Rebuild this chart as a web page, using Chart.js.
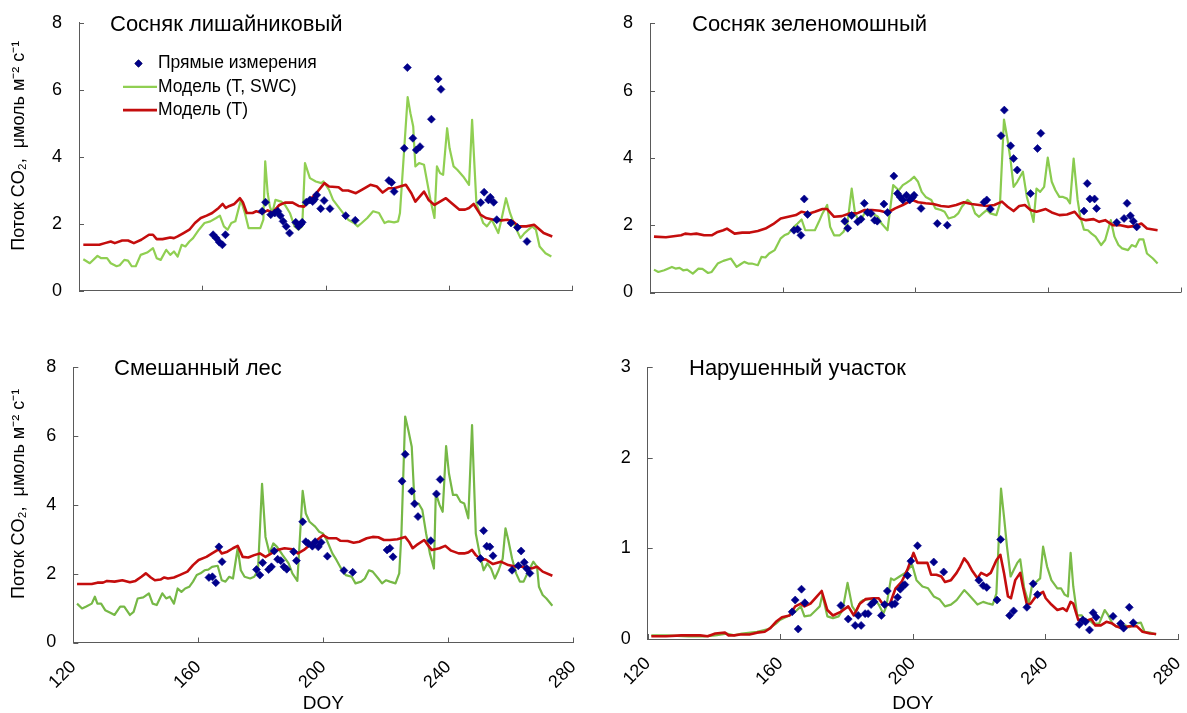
<!DOCTYPE html>
<html lang="ru">
<head>
<meta charset="utf-8">
<title>Поток CO2 — DOY</title>
<script src="https://cdn.jsdelivr.net/npm/chart.js@4.4.1/dist/chart.umd.min.js"></script>
<style>
  html, body { margin: 0; padding: 0; background: #fff; }
  body { position: relative; width: 1187px; height: 713px; overflow: hidden; }
  canvas { position: absolute; }
  #c1 { left: 0; top: 0; }
  #c2 { left: 593px; top: 0; }
  #c3 { left: 0; top: 335px; }
  #c4 { left: 593px; top: 335px; }
</style>
</head>
<body>
<canvas id="c1" width="593" height="335"></canvas>
<canvas id="c2" width="610" height="335"></canvas>
<canvas id="c3" width="593" height="378"></canvas>
<canvas id="c4" width="610" height="378"></canvas>
<script>
// labels
const seriesLabels = ['Прямые измерения', 'Модель (T, SWC)', 'Модель (T)'];
const panelTitles = ['Сосняк лишайниковый', 'Сосняк зеленомошный', 'Смешанный лес', 'Нарушенный участок'];
const yTitle = 'Поток CO₂,  μмоль м⁻² с⁻¹';
const xTitle = 'DOY';

// --- Сосняк лишайниковый ---
const doyLichenMeas = [163.5,164.5,165.5,166.5,167.5,179.4,180.5,182.2,183.5,184.5,185.3,186.2,187.2,188.3,190.3,191.2,192.0,192.4,193.7,194.9,195.8,196.4,197.1,198.4,199.5,201.4,206.5,209.6,220.5,221.4,222.2,225.5,226.5,228.3,229.4,230.6,234.3,236.5,237.4,250.3,251.4,252.8,253.4,254.5,255.5,260.1,262.2,265.3];
const fluxLichenMeas = [1.67,1.57,1.45,1.37,1.67,2.37,2.64,2.27,2.32,2.37,2.24,2.07,1.92,1.72,2.04,1.92,1.99,2.04,2.64,2.71,2.66,2.73,2.86,2.45,2.69,2.45,2.24,2.10,3.29,3.23,2.96,4.25,6.66,4.55,4.20,4.30,5.12,6.32,6.01,2.63,2.94,2.71,2.79,2.64,2.12,2.02,1.89,1.47];
const doyLichenSwc = [121.4,123.5,126.0,127.2,129.1,130.3,132.2,133.2,134.7,135.9,137.1,138.4,140.0,142.1,144.0,145.2,146.5,148.3,149.6,150.8,152.0,153.3,154.5,155.8,157.0,158.9,160.7,162.6,164.5,165.7,167.0,168.2,169.4,170.7,172.5,173.8,175.0,178.8,179.8,180.4,181.2,181.9,182.7,183.7,185.6,186.8,188.4,189.9,191.2,192.4,193.3,194.9,196.8,198.6,199.3,201.1,202.4,204.8,207.3,209.2,210.4,211.7,213.5,215.4,217.3,218.5,219.1,220.4,222.2,223.5,224.1,226.6,227.5,228.4,229.1,230.3,231.9,234.0,235.3,236.1,237.1,238.1,239.4,240.2,241.5,242.7,244.6,246.5,247.5,248.9,251.1,252.3,253.9,256.0,257.0,258.5,259.8,261.4,263.2,264.5,267.0,268.2,269.4,271.3,273.2];
const fluxLichenSwc = [0.94,0.82,1.04,0.97,0.97,0.82,0.73,0.76,0.92,0.90,0.73,0.73,1.07,1.14,1.27,0.97,0.92,1.22,1.07,1.17,1.02,1.37,1.32,1.47,1.57,1.82,2.02,2.07,2.17,2.24,1.92,1.82,2.02,2.07,2.71,2.32,1.87,1.87,2.12,3.86,2.91,2.51,2.32,2.71,2.66,2.56,2.32,1.92,1.82,1.92,3.81,3.36,3.26,3.21,3.26,3.01,2.71,2.42,2.12,2.02,1.92,2.02,2.17,2.37,2.32,2.12,2.02,2.07,2.04,2.07,2.32,5.78,5.30,4.90,3.71,3.81,3.76,2.71,2.17,3.71,3.51,3.46,4.85,4.25,3.71,3.61,3.41,3.16,5.10,2.61,2.02,1.92,2.12,1.72,2.12,2.76,2.32,1.92,1.57,1.72,1.92,1.82,1.32,1.12,1.02];
const doyLichenT = [121.4,126.6,128.4,130.3,131.6,134.0,135.9,137.8,140.2,142.7,144.0,145.2,147.1,149.6,150.8,152.0,153.9,155.8,157.6,159.5,161.4,163.2,165.3,166.6,167.6,168.8,170.4,172.2,173.2,174.4,176.3,177.5,179.4,181.2,182.7,185.0,186.8,189.3,191.2,193.0,194.9,197.4,199.6,201.1,204.2,205.5,207.3,209.8,211.7,214.5,216.6,218.5,220.4,222.2,226.0,227.8,229.1,231.9,233.4,235.3,237.1,239.0,240.9,243.4,245.2,246.5,248.0,250.2,252.0,254.5,257.0,258.9,260.7,262.6,265.1,267.6,270.7,273.5];
const fluxLichenT = [1.37,1.37,1.42,1.47,1.42,1.50,1.50,1.42,1.52,1.67,1.67,1.54,1.54,1.59,1.57,1.62,1.72,1.82,2.02,2.17,2.24,2.32,2.47,2.59,2.47,2.53,2.59,2.76,2.63,2.32,2.32,2.37,2.32,2.40,2.32,2.56,2.63,2.63,2.53,2.51,2.71,2.96,3.21,3.11,3.09,2.99,2.99,2.91,3.01,3.16,3.11,2.93,3.06,3.06,3.16,2.91,2.66,2.96,2.71,2.56,2.66,2.76,2.61,2.42,2.42,2.47,2.59,2.27,2.17,2.12,2.10,2.12,2.07,1.92,1.92,1.97,1.72,1.62];

// --- Сосняк зеленомошный ---
const doyMossMeas = [163.4,164.5,165.5,166.5,167.5,178.7,179.6,180.8,182.6,183.6,184.6,185.6,186.6,187.7,188.5,190.5,191.6,193.5,194.6,195.4,196.2,197.3,198.3,199.1,199.6,201.7,206.6,209.6,220.7,221.5,222.6,225.8,226.8,228.7,229.6,230.7,234.7,236.8,237.8,250.8,251.8,252.6,254.0,254.6,260.7,262.9,263.8,264.8,265.7,266.7];
const fluxMossMeas = [1.85,1.88,1.70,2.78,2.32,2.12,1.91,2.29,2.10,2.18,2.65,2.38,2.35,2.15,2.12,2.63,2.38,3.46,2.94,2.84,2.75,2.89,2.75,2.82,2.89,2.50,2.05,2.00,2.68,2.75,2.48,4.66,5.42,4.36,3.98,3.64,2.94,4.28,4.73,2.42,3.24,2.78,2.78,2.50,2.08,2.20,2.65,2.28,2.12,1.95];
const doyMossSwc = [121.2,122.5,124.3,126.6,127.7,128.9,130.0,131.2,132.9,134.6,135.8,137.5,138.6,140.4,142.1,144.4,146.1,147.3,148.4,149.6,150.7,152.5,153.6,154.8,155.9,157.6,159.4,160.5,161.7,163.4,164.5,165.7,166.8,168.0,169.7,170.9,172.0,173.4,174.3,175.5,177.2,178.3,179.5,180.8,181.8,182.9,183.8,185.2,187.0,188.7,189.8,191.6,193.3,195.0,196.2,197.3,198.5,199.6,200.8,201.9,203.1,204.8,206.0,207.7,208.8,210.0,211.7,212.9,214.0,215.7,216.9,218.0,219.2,220.3,221.5,222.6,224.4,225.5,226.7,227.8,228.7,229.6,230.7,232.4,233.6,234.7,235.6,236.5,237.6,238.8,239.9,241.1,242.2,243.4,244.5,245.7,246.6,247.7,248.9,249.7,250.8,252.0,253.1,254.3,256.0,257.2,258.9,260.0,261.2,262.3,264.1,265.2,266.4,267.5,268.7,269.8,271.6,273.0];
const fluxMossSwc = [0.68,0.61,0.66,0.76,0.71,0.73,0.66,0.68,0.56,0.71,0.70,0.58,0.61,0.86,0.94,1.01,0.76,0.84,0.91,0.86,0.86,0.81,1.06,1.04,1.16,1.26,1.61,1.70,1.75,1.95,2.05,2.17,1.85,1.85,1.85,2.10,2.35,2.60,1.95,1.70,1.70,1.80,2.05,3.09,2.35,2.15,2.20,2.45,2.35,2.25,2.05,1.85,3.19,3.04,3.19,3.26,3.34,3.44,3.29,2.99,2.84,2.75,2.50,2.45,2.40,2.20,2.25,2.35,2.55,2.75,2.65,2.35,2.25,2.35,2.45,2.35,2.30,2.65,5.14,4.53,3.93,3.14,3.29,3.59,2.84,2.45,2.10,3.09,2.99,3.14,4.01,3.29,3.04,2.84,2.84,2.79,2.65,3.98,2.75,2.25,1.87,1.85,1.75,1.66,1.41,1.56,2.15,1.66,1.41,1.31,1.26,1.41,1.36,1.58,1.58,1.16,1.01,0.86];
const doyMossT = [121.2,124.8,127.1,129.4,130.6,132.3,134.0,136.3,138.6,140.4,142.1,143.2,145.5,147.8,150.1,152.5,154.8,157.1,159.4,161.7,164.0,165.7,168.0,169.7,172.0,173.4,175.5,177.8,180.1,182.4,184.7,187.0,189.3,191.6,193.9,196.2,199.1,200.8,203.1,205.4,207.7,210.0,212.3,214.6,216.9,219.2,221.5,223.8,226.1,227.8,229.6,231.3,233.0,234.7,236.5,239.3,241.1,243.4,245.7,248.0,249.7,251.4,253.7,255.4,257.2,259.5,261.8,264.1,266.4,268.1,269.8,273.0];
const fluxMossT = [1.66,1.64,1.67,1.70,1.75,1.73,1.75,1.70,1.70,1.80,1.85,1.90,1.75,1.78,1.78,1.83,1.90,2.03,2.20,2.25,2.30,2.40,2.35,2.40,2.48,2.48,2.25,2.27,2.35,2.35,2.45,2.45,2.43,2.37,2.50,2.60,2.75,2.68,2.65,2.63,2.57,2.55,2.60,2.68,2.63,2.60,2.57,2.60,2.70,2.55,2.42,2.57,2.60,2.45,2.40,2.48,2.38,2.30,2.32,2.40,2.20,2.15,2.18,2.10,2.15,2.00,2.00,1.95,1.98,2.05,1.90,1.85];

// --- Смешанный лес ---
const doyMixedMeas = [163.4,164.5,165.6,166.6,167.6,178.6,179.7,180.6,182.5,183.4,184.3,185.4,186.4,187.4,188.3,190.5,191.4,193.4,194.4,195.2,196.5,197.4,198.4,199.3,201.3,206.6,209.4,220.4,221.3,222.3,225.2,226.2,228.3,229.2,230.3,234.4,236.2,237.4,250.3,251.3,252.3,253.3,254.3,260.4,262.4,263.3,264.3,265.1,266.1];
const fluxMixedMeas = [1.89,1.91,1.74,2.78,2.35,2.12,1.96,2.32,2.12,2.20,2.66,2.42,2.38,2.20,2.13,2.64,2.38,3.51,2.93,2.88,2.80,2.93,2.78,2.91,2.51,2.09,2.04,2.69,2.74,2.49,4.69,5.47,4.40,4.03,3.66,2.96,4.32,4.74,2.44,3.25,2.80,2.78,2.52,2.10,2.23,2.66,2.33,2.15,2.01];
const doyMixedSwc = [121.2,122.8,124.0,125.9,126.9,127.7,128.9,130.2,132.0,133.2,135.0,136.3,138.1,139.3,140.6,142.4,144.2,145.4,146.7,148.5,149.7,150.9,152.2,153.4,154.6,155.8,157.1,158.3,159.5,160.7,162.0,163.2,164.4,166.2,167.5,168.7,169.9,171.1,172.6,173.6,174.8,176.6,177.9,179.1,180.4,181.5,182.8,184.0,185.2,187.0,188.9,190.1,191.7,193.4,194.4,195.6,197.4,198.7,199.9,201.1,202.9,204.2,206.0,207.2,209.1,210.3,212.1,213.3,214.6,215.8,217.6,218.8,220.1,221.3,223.1,224.3,225.0,226.2,227.2,228.3,229.2,230.5,231.7,232.9,234.1,235.4,236.0,237.2,238.2,239.3,240.2,241.5,242.7,243.9,245.1,246.4,247.6,248.8,250.0,251.3,252.5,253.7,254.9,256.1,257.4,258.3,259.2,260.4,261.7,262.9,264.1,265.3,267.2,268.4,269.0,270.2,271.4,273.3];
const fluxMixedSwc = [1.13,0.99,1.04,1.13,1.33,1.13,1.13,0.94,0.86,0.80,1.04,1.04,0.80,0.89,1.28,1.31,1.43,1.13,1.09,1.43,1.28,1.33,1.13,1.57,1.47,1.57,1.62,1.77,1.96,2.01,2.10,2.12,2.20,2.23,1.81,1.77,1.91,1.86,2.74,2.10,1.91,1.86,1.91,2.10,4.61,3.07,2.59,2.88,2.78,2.54,2.30,2.01,1.79,4.41,3.75,3.51,3.37,3.22,3.17,2.98,2.59,2.40,2.10,1.96,1.91,1.72,1.77,1.86,2.10,2.06,1.86,1.72,1.81,1.77,1.72,2.01,3.17,6.57,6.18,5.69,4.04,4.04,3.85,3.17,2.59,2.15,4.34,4.00,3.80,5.71,4.92,4.29,4.29,4.09,4.04,3.61,6.32,3.17,2.59,2.10,2.30,2.15,1.86,2.10,2.44,3.32,2.98,2.44,2.01,1.77,1.77,2.01,2.35,2.20,1.62,1.38,1.28,1.07];
const doyMixedT = [121.2,125.9,127.7,129.5,130.8,133.2,135.7,138.1,139.9,141.8,143.2,144.8,146.1,147.9,149.1,150.3,152.2,154.0,156.5,158.3,160.1,162.6,164.4,166.5,167.5,169.3,171.1,172.6,174.2,176.0,177.9,179.7,181.5,183.4,185.2,187.6,190.1,191.9,193.8,196.2,198.0,199.9,201.7,204.2,205.4,207.8,209.7,211.5,213.9,215.8,217.6,219.4,221.3,223.7,226.2,227.4,228.6,229.8,232.3,233.5,234.7,237.2,239.0,240.9,243.3,245.1,246.4,247.6,248.8,250.6,251.9,254.3,256.8,259.2,261.7,264.1,266.5,268.4,270.2,273.3];
const fluxMixedT = [1.70,1.70,1.74,1.74,1.79,1.77,1.81,1.75,1.79,1.91,2.01,1.89,1.81,1.83,1.89,1.86,1.89,1.96,2.06,2.25,2.40,2.49,2.59,2.71,2.59,2.64,2.74,2.81,2.49,2.47,2.54,2.59,2.49,2.59,2.69,2.74,2.71,2.59,2.69,2.88,2.98,3.12,3.03,3.03,2.96,2.95,2.90,2.93,3.03,3.07,3.06,2.98,2.98,3.00,3.07,2.93,2.74,2.83,2.98,2.83,2.69,2.74,2.81,2.67,2.59,2.59,2.62,2.69,2.54,2.40,2.42,2.28,2.35,2.25,2.20,2.20,2.15,2.20,2.06,1.94];

// --- Нарушенный участок ---
const doyDistMeas = [163.6,164.5,165.4,166.4,167.4,178.3,180.5,182.6,183.5,184.4,185.6,186.5,187.4,188.3,190.5,191.5,192.3,193.7,194.6,195.4,196.2,197.1,197.6,198.4,199.4,201.4,206.3,209.3,219.9,221.2,222.3,225.4,226.5,229.2,230.4,234.4,236.3,237.6,250.2,251.3,252.1,253.3,254.4,255.3,260.4,262.7,263.6,265.3,266.5];
const fluxDistMeas = [0.30,0.43,0.11,0.55,0.40,0.37,0.22,0.15,0.26,0.15,0.28,0.28,0.38,0.41,0.26,0.38,0.53,0.38,0.39,0.46,0.55,0.59,0.60,0.70,0.86,1.03,0.85,0.74,0.65,0.59,0.57,0.43,1.10,0.26,0.31,0.35,0.61,0.49,0.16,0.21,0.19,0.10,0.29,0.24,0.25,0.17,0.12,0.35,0.18];
const doyDistSwc = [121.1,125.5,132.4,137.0,140.4,143.8,146.1,148.4,153.0,156.4,158.7,159.9,162.2,164.5,166.2,167.3,169.1,170.8,171.9,172.7,174.2,175.9,177.6,178.8,180.3,181.7,182.8,184.2,185.1,186.8,188.5,189.7,191.1,192.0,193.4,194.3,196.0,197.7,199.8,201.1,202.9,204.6,206.3,208.0,209.7,211.5,213.2,215.5,216.6,218.3,219.5,221.2,222.9,224.1,225.2,226.6,227.5,228.4,229.5,230.4,231.5,232.4,233.6,235.0,235.9,237.2,238.4,239.3,240.5,241.8,243.6,244.7,245.8,246.8,247.6,248.4,249.6,251.0,252.1,253.3,254.4,256.2,257.9,259.0,260.2,261.3,262.5,264.2,265.3,267.0,268.8,269.9,271.6,273.4];
const fluxDistSwc = [0.04,0.04,0.03,0.03,0.04,0.06,0.04,0.06,0.08,0.11,0.17,0.21,0.25,0.30,0.36,0.25,0.26,0.32,0.36,0.49,0.25,0.23,0.25,0.32,0.62,0.36,0.30,0.41,0.43,0.44,0.44,0.38,0.28,0.36,0.67,0.65,0.69,0.73,0.82,0.65,0.58,0.56,0.47,0.44,0.36,0.38,0.43,0.54,0.50,0.43,0.38,0.41,0.39,0.38,0.50,1.66,1.35,1.02,0.69,0.76,0.84,0.88,0.56,0.39,0.58,0.63,0.67,1.02,0.80,0.65,0.56,0.56,0.49,0.47,0.95,0.58,0.26,0.26,0.19,0.21,0.17,0.17,0.32,0.26,0.17,0.14,0.14,0.15,0.13,0.17,0.18,0.08,0.07,0.05];
const doyDistT = [121.1,125.5,130.1,132.4,135.8,138.1,140.4,143.3,144.4,146.1,147.9,150.7,153.0,155.3,157.0,158.7,160.5,162.8,164.5,166.2,167.3,169.1,170.8,172.5,174.2,175.9,178.2,180.5,182.2,184.0,185.7,188.0,189.7,191.4,193.1,194.8,196.6,198.3,200.2,201.4,202.3,204.4,205.5,207.1,208.6,209.7,211.5,213.2,214.3,215.5,216.6,217.8,219.5,220.6,222.3,223.5,225.2,226.4,227.5,228.7,229.6,230.9,232.4,233.2,234.4,235.5,236.7,237.8,239.3,240.1,241.8,243.6,245.3,246.4,247.6,248.4,249.9,251.0,252.1,253.9,255.0,256.7,258.4,260.2,261.3,263.1,265.3,267.6,269.3,271.6,273.4];
const fluxDistT = [0.03,0.03,0.04,0.04,0.04,0.03,0.06,0.07,0.04,0.04,0.05,0.05,0.07,0.08,0.12,0.19,0.24,0.26,0.36,0.39,0.36,0.39,0.46,0.53,0.32,0.26,0.30,0.36,0.26,0.39,0.44,0.45,0.45,0.36,0.39,0.56,0.63,0.76,0.95,0.84,0.84,0.84,0.71,0.71,0.69,0.63,0.65,0.73,0.80,0.89,0.84,0.76,0.67,0.73,0.70,0.73,0.87,0.93,0.73,0.47,0.45,0.65,0.73,0.58,0.38,0.39,0.45,0.49,0.52,0.45,0.38,0.32,0.34,0.31,0.41,0.39,0.21,0.22,0.20,0.22,0.15,0.15,0.19,0.17,0.14,0.12,0.14,0.14,0.08,0.06,0.055];

const FONT = '"Liberation Sans", Arial, Helvetica, sans-serif';
const AXIS = '#5a5a5a';
const RED = '#c40d0d';
const NAVY = '#00008a';

Chart.defaults.font.family = FONT;
Chart.defaults.color = '#000';

const pts = (doy, flux) => doy.map((d, i) => ({ x: d, y: flux[i] }));

// short inward tick marks, the panel heading, the y title and the legend
const panelDecor = {
  id: 'panelDecor',
  beforeDatasetsDraw(chart) {
    const { ctx, chartArea: a, scales: { x, y } } = chart;
    ctx.save();
    ctx.strokeStyle = AXIS;
    ctx.lineWidth = 1;
    ctx.beginPath();
    x.ticks.forEach(t => {
      const px = Math.round(x.getPixelForValue(t.value)) + 0.5;
      ctx.moveTo(px, a.bottom);
      ctx.lineTo(px, a.bottom - 5);
    });
    y.ticks.forEach(t => {
      const py = Math.round(y.getPixelForValue(t.value)) + 0.5;
      ctx.moveTo(a.left, py);
      ctx.lineTo(a.left + 5, py);
    });
    ctx.stroke();
    ctx.restore();
  },
  afterDraw(chart, args, opts) {
    const { ctx, chartArea: a } = chart;
    ctx.save();
    ctx.fillStyle = '#000';
    ctx.textBaseline = 'middle';
    ctx.font = '22px ' + FONT;
    ctx.fillText(opts.title, opts.titleX, opts.titleY);

    if (opts.yTitle) {
      ctx.save();
      ctx.font = '18px ' + FONT;
      ctx.textAlign = 'center';
      ctx.translate(opts.yTitleX, (a.top + a.bottom) / 2 + opts.yTitleShift);
      ctx.rotate(-Math.PI / 2);
      ctx.fillText(opts.yTitle, 0, 0);
      ctx.restore();
    }

    const lg = opts.legend;
    if (lg) {
      ctx.font = '17.5px ' + FONT;
      chart.data.datasets.forEach((ds, i) => {
        const ly = lg.y + i * lg.step;
        if (ds.showLine === false) {
          Chart.helpers.drawPoint(ctx, { pointStyle: 'rectRot', radius: 4, borderWidth: 0 }, lg.markX, ly);
          ctx.fillStyle = ds.backgroundColor;
          ctx.fill();
        } else {
          ctx.strokeStyle = ds.borderColor;
          ctx.lineWidth = ds.borderWidth;
          ctx.beginPath();
          ctx.moveTo(lg.lineX0, ly);
          ctx.lineTo(lg.lineX1, ly);
          ctx.stroke();
        }
        ctx.fillStyle = '#000';
        ctx.fillText(ds.label, lg.textX, ly);
      });
    }
    ctx.restore();
  }
};

const panels = [
  { id: 'c1', meas: [doyLichenMeas, fluxLichenMeas], swc: [doyLichenSwc, fluxLichenSwc], t: [doyLichenT, fluxLichenT],
    title: panelTitles[0], titleX: 110, titleY: 25, yMax: 8, yStep: 2, green: '#90cf52',
    yW: 79, xH: 44.3, top: 22.7, right: 20.7, yLabel: true, xLabels: false,
    legend: { y: 63.5, step: 23.3, markX: 138.5, lineX0: 123, lineX1: 157, textX: 158 } },
  { id: 'c2', meas: [doyMossMeas, fluxMossMeas], swc: [doyMossSwc, fluxMossSwc], t: [doyMossT, fluxMossT],
    title: panelTitles[1], titleX: 99, titleY: 25, yMax: 8, yStep: 2, green: '#8acb4f',
    yW: 57, xH: 42.5, top: 23.3, right: 22.2, yLabel: false, xLabels: false },
  { id: 'c3', meas: [doyMixedMeas, fluxMixedMeas], swc: [doyMixedSwc, fluxMixedSwc], t: [doyMixedT, fluxMixedT],
    title: panelTitles[2], titleX: 114, titleY: 33.5, yMax: 8, yStep: 2, green: '#76b846',
    yW: 73.3, xH: 70.5, top: 32.3, right: 19.7, yLabel: true, xLabels: true },
  { id: 'c4', meas: [doyDistMeas, fluxDistMeas], swc: [doyDistSwc, fluxDistSwc], t: [doyDistT, fluxDistT],
    title: panelTitles[3], titleX: 96, titleY: 33.5, yMax: 3, yStep: 1, green: '#7bbb48',
    yW: 54.7, xH: 74, top: 32.3, right: 25, yLabel: false, xLabels: true }
];

// invisible grid, its tick length only sets the label offset
const hiddenGrid = { display: true, drawOnChartArea: false, drawTicks: true, color: 'rgba(0,0,0,0)' };

panels.forEach(p => {
  new Chart(document.getElementById(p.id), {
    type: 'line',
    data: {
      datasets: [
        { label: seriesLabels[0], data: pts(...p.meas), showLine: false, order: 0,
          pointStyle: 'rectRot', pointRadius: 4, pointBorderWidth: 0.6,
          backgroundColor: NAVY, borderColor: NAVY },
        { label: seriesLabels[1], data: pts(...p.swc), order: 2,
          borderColor: p.green, borderWidth: 2.2, pointRadius: 0, borderJoinStyle: 'round' },
        { label: seriesLabels[2], data: pts(...p.t), order: 1,
          borderColor: RED, borderWidth: 2.6, pointRadius: 0, borderJoinStyle: 'round' }
      ]
    },
    options: {
      responsive: false,
      animation: false,
      layout: { padding: { left: 0, top: p.top, right: p.right, bottom: 0 } },
      plugins: {
        legend: { display: false },
        tooltip: { enabled: false },
        panelDecor: { title: p.title, titleX: p.titleX, titleY: p.titleY, legend: p.legend,
                      yTitle: p.yLabel ? yTitle : null, yTitleX: 19, yTitleShift: -11 }
      },
      scales: {
        x: {
          type: 'linear', min: 120, max: 280,
          grid: { ...hiddenGrid, tickLength: 11 },
          border: { display: true, color: AXIS, width: 1 },
          ticks: { display: p.xLabels, stepSize: 40, minRotation: 45, maxRotation: 45, padding: 3,
                   font: { size: 18 }, color: '#000' },
          title: { display: p.xLabels, text: xTitle, font: { size: 19, lineHeight: 1 }, padding: 0, color: '#000' },
          afterFit: s => { s.height = p.xH; }
        },
        y: {
          min: 0, max: p.yMax,
          grid: { ...hiddenGrid, tickLength: 12 },
          border: { display: true, color: AXIS, width: 1 },
          ticks: { stepSize: p.yStep, padding: 5, font: { size: 18 }, color: '#000' },
          afterFit: s => { s.width = p.yW; }
        }
      }
    },
    plugins: [panelDecor]
  });
});
</script>
</body>
</html>
